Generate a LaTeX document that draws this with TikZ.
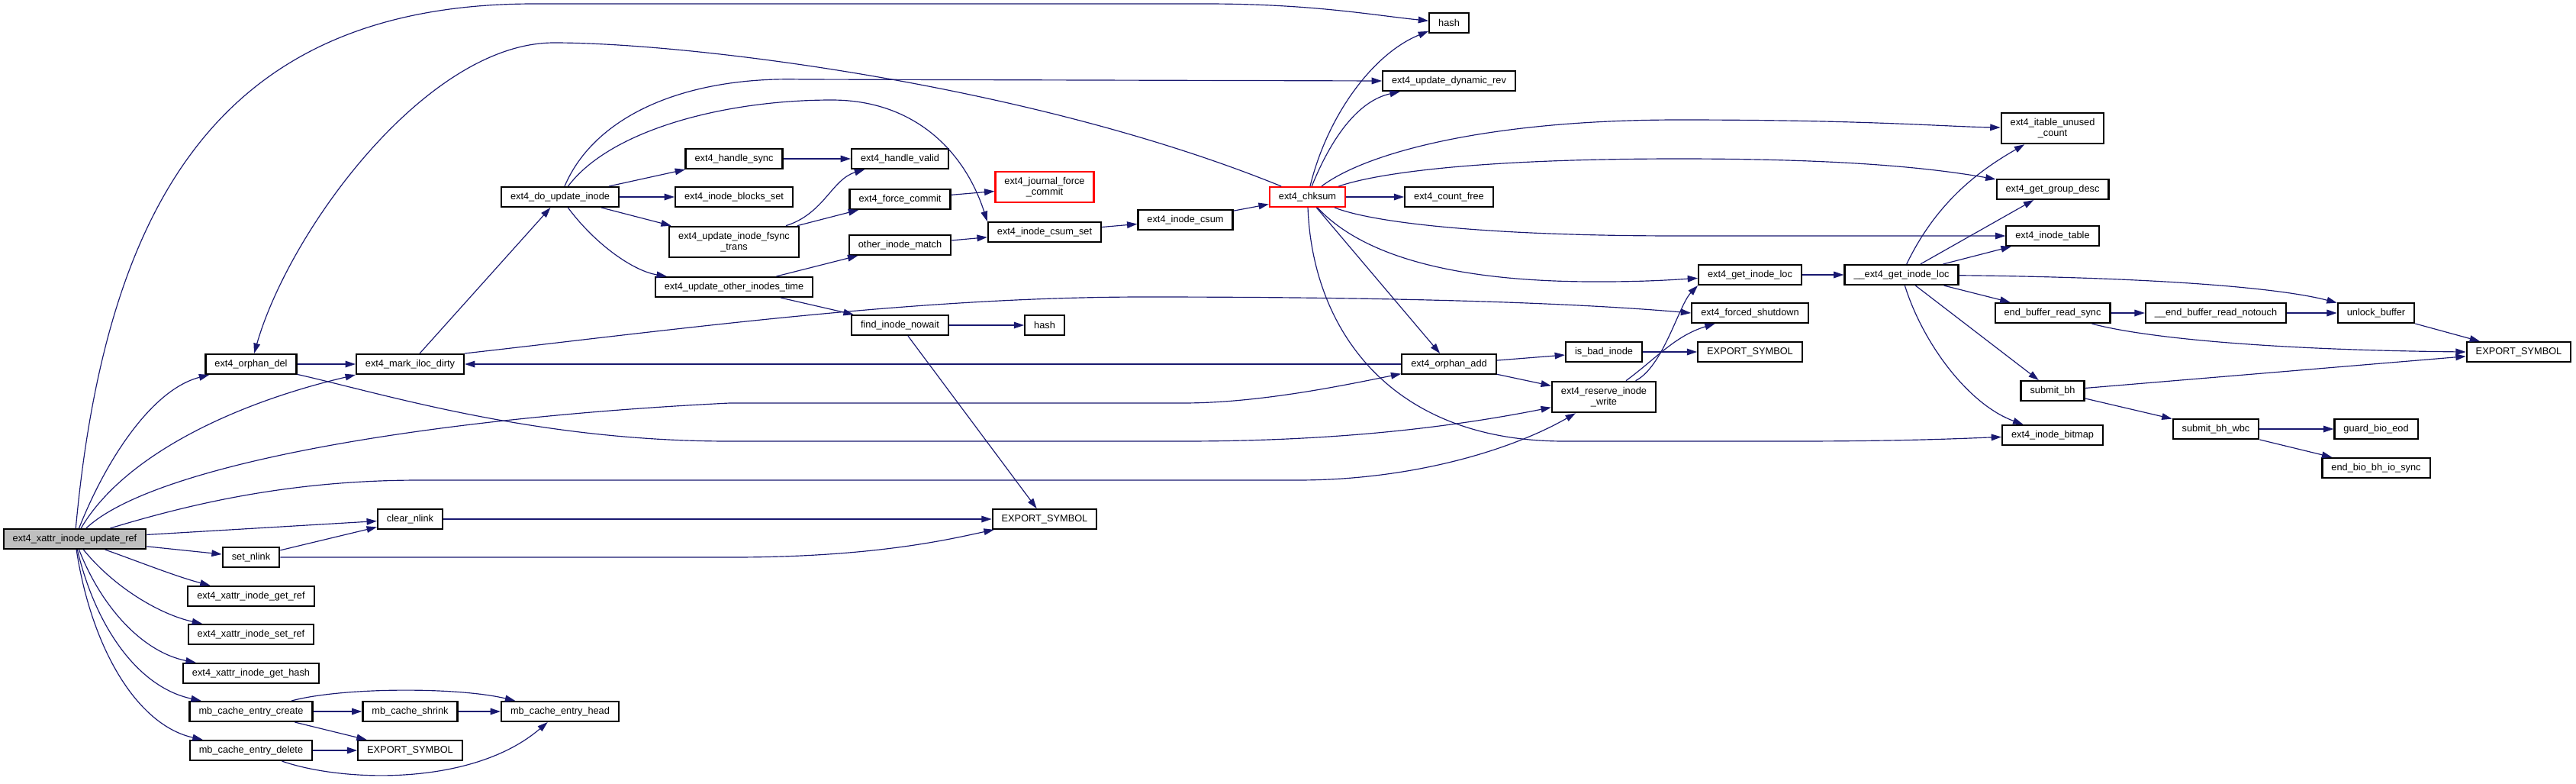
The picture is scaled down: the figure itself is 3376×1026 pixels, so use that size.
\documentclass[tikz,border=0pt]{standalone}
\usepackage{fontspec}
\setmainfont{Liberation Sans}
\usetikzlibrary{arrows.meta}
\definecolor{edgeblue}{HTML}{191970}
\definecolor{rootgray}{HTML}{BFBFBF}
\definecolor{cutred}{HTML}{FF0000}

\begin{document}
\begin{tikzpicture}[x=0.3mm, y=-0.3mm,
  every node/.style={font=\fontsize{10.9}{12.5}\selectfont},
  fn/.style={draw=black, fill=white, line width=0.65mm, inner xsep=3.6mm, inner ysep=2.1mm,
    minimum height=7.7mm, align=center},
  root/.style={fn, fill=rootgray},
  cut/.style={fn, draw=cutred},
  call/.style={edgeblue, line width=0.35mm, -{Triangle[length=4mm, width=2.6mm]}}]

\useasboundingbox (0,0) rectangle (3376,1026);

% column centres, one per call depth
\def\xroot{98}
\def\colA{329}\def\colB{537.5}\def\colC{734}\def\colD{962}\def\colE{1179.5}
\def\colF{1369}\def\colG{1553.5}\def\colH{1713.5}\def\colI{1899}\def\colJ{2102}
\def\colK{2293.5}\def\colL{2492}\def\colM{2690}\def\colN{2904}\def\colO{3114}\def\colP{3301}

% the function of this graph
\node[root] (main) at (\xroot,706) {ext4\_xattr\_inode\_update\_ref};

% depth 1
\node[fn] (orphandel) at (\colA,477) {ext4\_orphan\_del};
\node[fn] (setnlink) at (\colA,730) {set\_nlink};
\node[fn] (getref) at (\colA,781) {ext4\_xattr\_inode\_get\_ref};
\node[fn] (setref) at (\colA,831) {ext4\_xattr\_inode\_set\_ref};
\node[fn] (gethash) at (\colA,882) {ext4\_xattr\_inode\_get\_hash};
\node[fn] (create) at (\colA,932) {mb\_cache\_entry\_create};
\node[fn] (delete) at (\colA,983) {mb\_cache\_entry\_delete};

% depth 2
\node[fn] (markdirty) at (\colB,477) {ext4\_mark\_iloc\_dirty};
\node[fn] (clearnlink) at (\colB,680) {clear\_nlink};
\node[fn] (shrink) at (\colB,932) {mb\_cache\_shrink};
\node[fn] (exportA) at (\colB,983) {EXPORT\_SYMBOL};

% depth 3
\node[fn] (doupdate) at (\colC,258) {ext4\_do\_update\_inode};
\node[fn] (head) at (\colC,932) {mb\_cache\_entry\_head};

% depth 4
\node[fn] (handlesync) at (\colD,208) {ext4\_handle\_sync};
\node[fn] (blocksset) at (\colD,258) {ext4\_inode\_blocks\_set};
\node[fn] (fsynctrans) at (\colD,317) {ext4\_update\_inode\_fsync\\\_trans};
\node[fn] (othertime) at (\colD,376) {ext4\_update\_other\_inodes\_time};

% depth 5
\node[fn] (handlevalid) at (\colE,208) {ext4\_handle\_valid};
\node[fn] (forcecommit) at (\colE,261) {ext4\_force\_commit};
\node[fn] (othermatch) at (\colE,321) {other\_inode\_match};
\node[fn] (findnowait) at (\colE,426) {find\_inode\_nowait};

% depth 6
\node[cut] (journalforce) at (\colF,245) {ext4\_journal\_force\\\_commit};
\node[fn] (csumset) at (\colF,304) {ext4\_inode\_csum\_set};
\node[fn] (hashB) at (\colF,426) {hash};
\node[fn] (exportB) at (\colF,680) {EXPORT\_SYMBOL};

% depth 7 and 8
\node[fn] (inodecsum) at (\colG,288) {ext4\_inode\_csum};
\node[cut] (chksum) at (\colH,258) {ext4\_chksum};

% depth 9
\node[fn] (hashA) at (\colI,30) {hash};
\node[fn] (dynrev) at (\colI,106) {ext4\_update\_dynamic\_rev};
\node[fn] (countfree) at (\colI,258) {ext4\_count\_free};
\node[fn] (orphanadd) at (\colI,477) {ext4\_orphan\_add};

% depth 10
\node[fn] (isbad) at (\colJ,461) {is\_bad\_inode};
\node[fn] (reserve) at (\colJ,520) {ext4\_reserve\_inode\\\_write};

% depth 11
\node[fn] (getloc) at (\colK,360) {ext4\_get\_inode\_loc};
\node[fn] (shutdown) at (\colK,410) {ext4\_forced\_shutdown};
\node[fn] (exportC) at (\colK,461) {EXPORT\_SYMBOL};

% depth 12
\node[fn] (ugetloc) at (\colL,360) {\_\_ext4\_get\_inode\_loc};

% depth 13
\node[fn] (itable) at (\colM,168) {ext4\_itable\_unused\\\_count};
\node[fn] (groupdesc) at (\colM,248) {ext4\_get\_group\_desc};
\node[fn] (inodetable) at (\colM,309) {ext4\_inode\_table};
\node[fn] (endread) at (\colM,410) {end\_buffer\_read\_sync};
\node[fn] (submitbh) at (\colM,512) {submit\_bh};
\node[fn] (bitmap) at (\colM,570) {ext4\_inode\_bitmap};

% depth 14 to 16
\node[fn] (notouch) at (\colN,410) {\_\_end\_buffer\_read\_notouch};
\node[fn] (wbc) at (\colN,562) {submit\_bh\_wbc};
\node[fn] (unlock) at (\colO,410) {unlock\_buffer};
\node[fn] (guard) at (\colO,562) {guard\_bio\_eod};
\node[fn] (endbio) at (\colO,613) {end\_bio\_bh\_io\_sync};
\node[fn] (exportD) at (\colP,461) {EXPORT\_SYMBOL};

% calls between neighbours on one row
\foreach \a/\b in {orphandel/markdirty, doupdate/blocksset, handlesync/handlevalid,
                   findnowait/hashB, chksum/countfree, isbad/exportC, getloc/ugetloc,
                   endread/notouch, notouch/unlock, wbc/guard, create/shrink,
                   shrink/head, delete/exportA, clearnlink/exportB}
  \draw[call] (\a.east) -- (\b.west);
\draw[call] (orphanadd.west) -- (markdirty.east);

% straight calls
\foreach \a/\b in {main/clearnlink, main/setnlink, setnlink/clearnlink, create/exportA,
                   markdirty/doupdate, doupdate/handlesync, doupdate/fsynctrans,
                   fsynctrans/forcecommit, forcecommit/journalforce, othertime/othermatch,
                   othertime/findnowait, othermatch/csumset, findnowait/exportB,
                   csumset/inodecsum, inodecsum/chksum, chksum/orphanadd, orphanadd/isbad,
                   orphanadd/reserve, ugetloc/groupdesc, ugetloc/inodetable, ugetloc/endread,
                   ugetloc/submitbh, unlock/exportD, submitbh/exportD, submitbh/wbc, wbc/endbio}
  \draw[call] (\a) -- (\b);

% root, upper fan
\draw[call] (main) .. controls (140,250) and (300,5) .. (700,5) -- (1580,5)
  .. controls (1720,5) and (1800,20) .. (hashA);
\draw[call] (main) .. controls (140,600) and (200,510) .. (orphandel);
\draw[call] (main) .. controls (160,600) and (300,530) .. (markdirty.south west);
\draw[call] (main) .. controls (200,610) and (550,548) .. (956,528) -- (1550,528)
  .. controls (1650,528) and (1760,505) .. (orphanadd);
\draw[call] (main) .. controls (250,660) and (380,629) .. (550,629) -- (1700,629)
  .. controls (1850,629) and (1980,590) .. (reserve);

% root, lower fan
\draw[call] (main) .. controls (180,735) and (230,755) .. (getref);
\draw[call] (main) .. controls (150,770) and (210,805) .. (setref);
\draw[call] (main) .. controls (135,800) and (190,855) .. (gethash);
\draw[call] (main) .. controls (125,820) and (180,900) .. (create);
\draw[call] (main) .. controls (120,850) and (180,950) .. (delete);

% depth 1 and 2
\draw[call] (orphandel) .. controls (500,515) and (700,578) .. (956,578) -- (1550,578)
  .. controls (1750,578) and (1900,560) .. (reserve);
\draw[call] (setnlink.east) -- (960,730) .. controls (1150,730) and (1250,705) .. (exportB);
\draw[call] (create) .. controls (450,900) and (600,900) .. (head);
\draw[call] (delete) .. controls (450,1025) and (620,1030) .. (head);
\draw[call] (markdirty.north east) .. controls (900,430) and (1200,389) .. (1500,389)
  .. controls (1900,389) and (2100,400) .. (shutdown.west);

% ext4_do_update_inode
\draw[call] (doupdate) .. controls (780,150) and (900,100) .. (1050,104) -- (dynrev.west);
\draw[call] (doupdate) .. controls (800,170) and (950,131) .. (1090,131)
  .. controls (1200,131) and (1265,200) .. (csumset.north west);
\draw[call] (doupdate) .. controls (780,320) and (830,355) .. (othertime);
\draw[call] (fsynctrans) .. controls (1080,280) and (1090,235) .. (handlevalid);

% ext4_chksum
\draw[call] (chksum) .. controls (1350,110) and (900,56) .. (726,56)
  .. controls (560,56) and (380,300) .. (orphandel);
\draw[call] (chksum) .. controls (1740,150) and (1800,70) .. (hashA);
\draw[call] (chksum) .. controls (1745,180) and (1780,132) .. (dynrev);
\draw[call] (chksum) .. controls (1790,200) and (1950,157) .. (2200,157)
  .. controls (2450,157) and (2550,166) .. (itable);
\draw[call] (chksum) .. controls (1810,225) and (1950,208) .. (2200,208)
  .. controls (2400,208) and (2520,218) .. (groupdesc);
\draw[call] (chksum) .. controls (1800,292) and (1950,309) .. (2200,309) -- (inodetable.west);
\draw[call] (chksum) .. controls (1790,340) and (1920,370) .. (2100,369)
  .. controls (2160,369) and (2200,366) .. (getloc);
\draw[call] (chksum) .. controls (1720,430) and (1820,578) .. (2050,578) -- (2350,578)
  .. controls (2500,578) and (2580,574) .. (bitmap);

% ext4_reserve_inode_write
\draw[call] (reserve) .. controls (2180,480) and (2200,400) .. (getloc.south west);
\draw[call] (reserve) .. controls (2170,470) and (2195,440) .. (shutdown);

% __ext4_get_inode_loc and below
\draw[call] (ugetloc) .. controls (2540,260) and (2600,220) .. (itable);
\draw[call] (ugetloc) .. controls (2800,363) and (2980,375) .. (unlock);
\draw[call] (ugetloc) .. controls (2520,450) and (2580,530) .. (bitmap);
\draw[call] (endread) .. controls (2800,440) and (2950,458) .. (exportD.west);

\end{tikzpicture}
\end{document}
